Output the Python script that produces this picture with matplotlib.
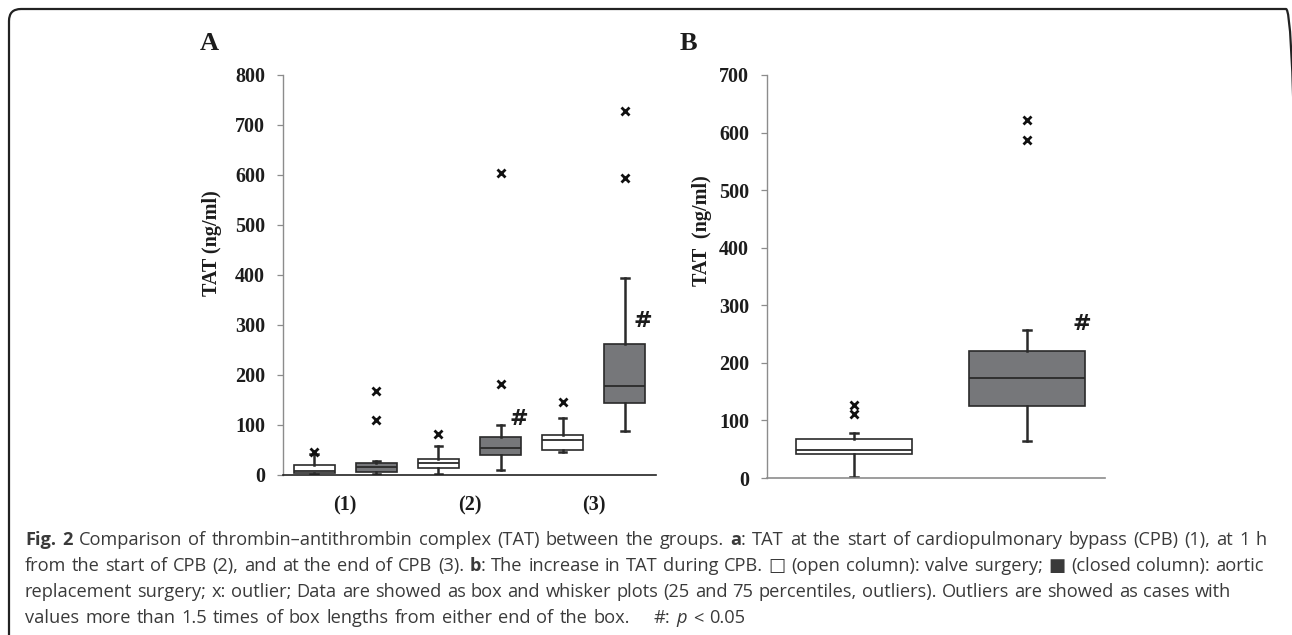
import matplotlib
matplotlib.use('Agg')
import matplotlib.pyplot as plt
from matplotlib.patches import FancyBboxPatch
from matplotlib.transforms import IdentityTransform

# ---------------- data ----------------
A_groups = ['(1)', '(2)', '(3)']
A_open_q1 = [5, 15, 51]
A_open_med = [9, 25, 70]
A_open_q3 = [21, 33, 81]
A_open_lo = [2, 3, 47]
A_open_hi = [42, 58, 114]
A_open_fliers = [[46], [83], [146]]

A_closed_q1 = [6, 41, 145]
A_closed_med = [17, 55, 179]
A_closed_q3 = [24, 77, 263]
A_closed_lo = [3, 11, 88]
A_closed_hi = [29, 101, 395]
A_closed_fliers = [[110, 168], [183, 605], [595, 729]]

A_yticks = [0, 100, 200, 300, 400, 500, 600, 700, 800]
A_sig_x = [1.90, 2.89]      # '#' marks (group position)
A_sig_y = [112, 308]

B_open = dict(q1=42, med=48, q3=68, lo=2, hi=79, fliers=[111, 126])
B_closed = dict(q1=125, med=174, q3=221, lo=65, hi=257, fliers=[587, 622])
B_yticks = [0, 100, 200, 300, 400, 500, 600, 700]
B_sig_x = [1.86]
B_sig_y = [267]

caption_lines = [
    [("Fig. 2", 'b'), (" Comparison of thrombin\u2013antithrombin complex (TAT) between the groups. ", 'r'),
     ("a", 'b'), (": TAT at the start of cardiopulmonary bypass (CPB) (1), at 1 h", 'r')],
    [("from the start of CPB (2), and at the end of CPB (3). ", 'r'), ("b", 'b'),
     (": The increase in TAT during CPB. \u25a1 (open column): valve surgery; \u25a0 (closed column): aortic", 'r')],
    [("replacement surgery; x: outlier; Data are showed as box and whisker plots (25 and 75 percentiles, outliers). Outliers are showed as cases with", 'r')],
    [("values more than 1.5 times of box lengths from either end of the box.    #: ", 'r'), ("p", 'i'), (" < 0.05", 'r')],
]

# ---------------- style ----------------
W, H = 1292, 635
SERIF = 'Liberation Serif'
DARK = '#1c1c1c'
EDGE = '#2a2a2a'
CLOSED = '#76777a'
AXGRAY = '#8c8c8c'
CAPCOL = '#3a3a3a'

plt.rcParams['font.family'] = SERIF

fig = plt.figure(figsize=(W / 100, H / 100), dpi=100)


def fx(px):
    return px / W


def fy(py):
    return 1 - py / H


def make_stats(q1, med, q3, lo, hi, fl):
    return [dict(q1=a, med=b, q3=c, whislo=d, whishi=e, fliers=f)
            for a, b, c, d, e, f in zip(q1, med, q3, lo, hi, fl)]


def draw_boxes(ax, stats, positions, width, face, capw):
    ax.bxp(stats, positions=positions, widths=width, patch_artist=True,
           capwidths=capw,
           boxprops=dict(facecolor=face, edgecolor=EDGE, linewidth=1.2),
           medianprops=dict(color=EDGE, linewidth=1.3),
           whiskerprops=dict(color=EDGE, linewidth=1.8),
           capprops=dict(color=EDGE, linewidth=1.8),
           flierprops=dict(marker='x', markeredgecolor='#111111', markersize=6,
                           markeredgewidth=2.0, linestyle='none'),
           manage_ticks=False)


def style_axes(ax, bottom_color):
    for s in ('top', 'right'):
        ax.spines[s].set_visible(False)
    ax.spines['left'].set_color(AXGRAY)
    ax.spines['left'].set_linewidth(1.0)
    ax.spines['bottom'].set_color(bottom_color)
    ax.spines['bottom'].set_linewidth(1.2)
    ax.tick_params(axis='y', length=4.3, width=0.9, color=AXGRAY, pad=8.6,
                   labelsize=14.5, labelcolor=DARK)
    for lb in ax.get_yticklabels():
        lb.set_fontweight('bold')
        lb.set_family(SERIF)


def sig_mark(ax, x, y):
    ax.text(x, y, '#', ha='center', va='center', fontsize=16, fontweight='bold',
            color=DARK, family='DejaVu Sans')


# ---------------- panel A ----------------
axA = fig.add_axes([fx(283), fy(475), (656 - 283) / W, (475 - 75) / H])
n = len(A_groups)
centers = [i + 0.5 for i in range(n)]
draw_boxes(axA, make_stats(A_open_q1, A_open_med, A_open_q3, A_open_lo, A_open_hi, A_open_fliers),
           [c - 0.25 for c in centers], 0.33, 'white', 0.06)
draw_boxes(axA, make_stats(A_closed_q1, A_closed_med, A_closed_q3, A_closed_lo, A_closed_hi, A_closed_fliers),
           [c + 0.25 for c in centers], 0.33, CLOSED, 0.06)
axA.set_xlim(0, n)
axA.set_ylim(0, 800)
axA.set_yticks(A_yticks)
axA.set_xticks(centers)
axA.set_xticklabels(A_groups, fontsize=14.5, fontweight='bold', color=DARK, family=SERIF)
axA.tick_params(axis='x', length=0, pad=14.5)
style_axes(axA, '#222222')
for x, y in zip(A_sig_x, A_sig_y):
    sig_mark(axA, x, y)

# ---------------- panel B ----------------
axB = fig.add_axes([fx(767), fy(478), (1105 - 767) / W, (478 - 75) / H])
b_stats = [dict(q1=d['q1'], med=d['med'], q3=d['q3'], whislo=d['lo'], whishi=d['hi'], fliers=d['fliers'])
           for d in (B_open, B_closed)]
draw_boxes(axB, b_stats[:1], [0.515], 0.686, 'white', 0.05)
draw_boxes(axB, b_stats[1:], [1.538], 0.686, CLOSED, 0.05)
axB.set_xlim(0, 2)
axB.set_ylim(0, 700)
axB.set_yticks(B_yticks)
axB.set_xticks([])
style_axes(axB, AXGRAY)
for x, y in zip(B_sig_x, B_sig_y):
    sig_mark(axB, x, y)

# ---------------- labels ----------------
fig.text(fx(212), fy(243), 'TAT (ng/ml)', rotation=90, ha='center', va='center',
         fontsize=14.5, fontweight='bold', color=DARK, family=SERIF)
fig.text(fx(702), fy(231), 'TAT  (ng/ml)', rotation=90, ha='center', va='center',
         fontsize=14.5, fontweight='bold', color=DARK, family=SERIF)
fig.text(fx(209), fy(43), 'A', ha='center', va='center', fontsize=19,
         fontweight='bold', color=DARK, family=SERIF)
fig.text(fx(688), fy(43), 'B', ha='center', va='center', fontsize=19,
         fontweight='bold', color=DARK, family=SERIF)

# ---------------- border ----------------
border = FancyBboxPatch((9, -30), 1298 - 9, 626 + 30, boxstyle='round,pad=0,rounding_size=12',
                        transform=IdentityTransform(), facecolor='none', edgecolor='#222222',
                        linewidth=1.6, clip_on=False)
fig.patches.append(border)

# ---------------- caption (word-placed, justified like the source) ----------------
renderer = fig.canvas.get_renderer()
CAP_FAM = ['Open Sans', 'DejaVu Sans']
CAP_SIZE = 12.6
CAP_X0 = 25
CAP_BASE = [545, 571, 597, 623]
CAP_RIGHT = [1267, 1264, 1231, None]
EXTRA_GAP = 1.2   # px added to each word gap (token boxes are tight)


def tokens_of(segs):
    toks = []
    pending = 0
    for txt, style in segs:
        parts = txt.split(' ')
        for j, p in enumerate(parts):
            if j > 0:
                pending += 1
            if p == '':
                continue
            toks.append((p, style, pending))
            pending = 0
    return toks


def make_texts(toks, size):
    out = []
    for word, style, nsp in toks:
        kw = dict(family=CAP_FAM, fontsize=size, color=CAPCOL)
        if style == 'b':
            kw['fontweight'] = 'bold'
        if style == 'i':
            kw['fontstyle'] = 'italic'
        t = fig.text(0, 0, word, ha='left', va='baseline', **kw)
        out.append((t, nsp))
    return out


def space_width(size):
    t1 = fig.text(0, 0, 'a a', family=CAP_FAM, fontsize=size)
    t2 = fig.text(0, 0, 'aa', family=CAP_FAM, fontsize=size)
    w = t1.get_window_extent(renderer).width - t2.get_window_extent(renderer).width
    t1.remove()
    t2.remove()
    return w + EXTRA_GAP


def natural_width(texts, sw):
    w = 0
    for i, (t, nsp) in enumerate(texts):
        if i > 0:
            w += nsp * sw
        w += t.get_window_extent(renderer).width
    return w


# choose size so that line 1 spans its measured extent
all_toks = [tokens_of(s) for s in caption_lines]
probe = make_texts(all_toks[0], CAP_SIZE)
w0 = natural_width(probe, space_width(CAP_SIZE))
for t, _ in probe:
    t.remove()
size = CAP_SIZE * (CAP_RIGHT[0] - CAP_X0) / w0
sw = space_width(size)

for toks, base, right in zip(all_toks, CAP_BASE, CAP_RIGHT):
    texts = make_texts(toks, size)
    widths = [t.get_window_extent(renderer).width for t, _ in texts]
    nat = natural_width(texts, sw)
    nspaces = sum(nsp for i, (_, nsp) in enumerate(texts) if i > 0)
    gap = sw
    if right is not None and nspaces > 0:
        gap = sw + (right - CAP_X0 - nat) / nspaces
    x = CAP_X0
    for i, ((t, nsp), w) in enumerate(zip(texts, widths)):
        if i > 0:
            x += nsp * gap
        t.set_position((fx(x), fy(base)))
        x += w

fig.savefig('out.png', dpi=100)
